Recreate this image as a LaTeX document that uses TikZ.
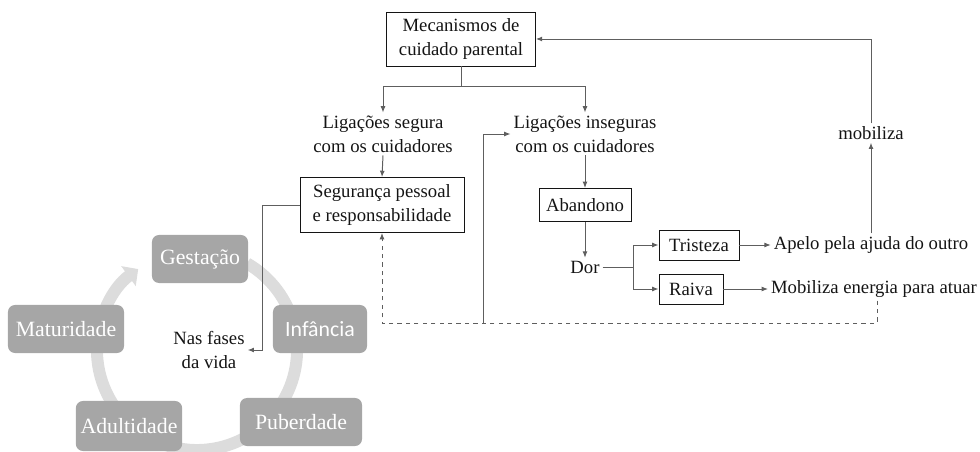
\documentclass[tikz,border=0pt]{standalone}
\usepackage{fontspec}
\setmainfont{Liberation Serif}
\newfontfamily\serfont{Liberation Serif}
\newfontfamily\calfont{Carlito}
\usetikzlibrary{arrows.meta}
\definecolor{ink}{HTML}{141414}
\definecolor{wire}{HTML}{5E5E5E}
\definecolor{stagefill}{HTML}{A6A6A6}
\definecolor{ring}{HTML}{DCDCDC}
\tikzset{
  >={Latex[length=4.5pt,width=3.5pt]},
  every node/.style={text=ink, font=\serfont\fontsize{13.3}{17}\selectfont},
  frame/.style={draw=ink, line width=0.6pt, align=center, inner sep=2pt},
  txt/.style={align=center, inner sep=2pt},
  stage/.style={fill=stagefill, rounded corners=5pt, text=white,
    minimum height=1.2cm, font=\serfont\fontsize{15.5}{18}\selectfont},
  link/.style={draw=wire, line width=0.7pt}
}
\begin{document}
\begin{tikzpicture}[x=0.025cm, y=-0.025cm]
				\useasboundingbox (0,0) rectangle (980,452);
				% ciclo das fases
				\draw[ring, line width=0.3cm, -{Triangle[length=0.3cm,width=0.6cm]}]
				(197,350) ++(60:2.5cm) arc[start angle=60, end angle=-234, radius=2.5cm];
				\node[stage, minimum width=2.4cm] (gest) at (200,259) {Gestação};
				\node[stage, minimum width=2.35cm, font=\calfont\fontsize{15.5}{18}\selectfont] (inf) at (320,329) {Infância};
				\node[stage, minimum width=3.05cm] (pub) at (301,422) {Puberdade};
				\node[stage, minimum width=2.55cm, minimum height=1.25cm] (adul) at (129,426) {Adultidade};
				\node[stage, minimum width=2.9cm] (mat) at (66,329) {Maturidade};
				\node[txt] (fases) at (209,350) {Nas fases\\da vida};
				% mecanismos
				\node[frame, minimum width=3.72cm, minimum height=1.35cm] (mec) at (461,39) {Mecanismos de\\cuidado parental};
				\node[txt] (seg) at (383,134) {Ligações segura\\com os cuidadores};
				\node[txt] (ins) at (585,134) {Ligações inseguras\\com os cuidadores};
				\node[frame, minimum width=4.1cm, minimum height=1.375cm] (pes) at (382,205) {Segurança pessoal\\e responsabilidade};
				\node[frame, minimum width=2.3cm, minimum height=0.83cm] (aban) at (585,205) {Abandono};
				\node[txt] (dor) at (585,267) {Dor};
				\node[frame, minimum width=2.0cm, minimum height=0.75cm] (tris) at (699,245) {Tristeza};
				\node[frame, minimum width=1.6cm, minimum height=0.75cm] (raiva) at (691,289) {Raiva};
				\node[txt] (apelo) at (871,245) {Apelo pela ajuda do outro};
				\node[txt] (energ) at (874,289) {Mobiliza energia para atuar};
				\node[txt] (mob) at (871,133) {mobiliza};
				\coordinate (split) at (461,86);
				\coordinate (fork) at (633,267);
				\coordinate (dcorner) at (877,323);
				\coordinate (scorner) at (483,323);
				% ligacoes
				\draw[link] (mec.south) -- (split);
				\draw[link, ->] (split) -| (seg.north);
				\draw[link, ->] (split) -| (ins.north);
				\draw[link, ->] (seg.south) -- (pes.north);
				\draw[link, ->] (ins.south) -- (aban.north);
				\draw[link, ->] (aban.south) -- (dor.north);
				\draw[link] (dor.east) -- (fork);
				\draw[link, ->] (fork) |- (tris.west);
				\draw[link, ->] (fork) |- (raiva.west);
				\draw[link, ->] (tris.east) -- (apelo.west);
				\draw[link, ->] (raiva.east) -- (energ.west);
				\draw[link, ->] (apelo.north) -- (mob.south);
				\draw[link, ->] (mob.north) |- (mec.east);
				\draw[link, ->] (pes.west) -- ++(-37,0) |- (fases.east);
				\draw[link, dashed, ->] (energ.south -| dcorner) -- (dcorner) -| (pes.south);
				\draw[link, ->] (scorner) |- (ins.west);
			\end{tikzpicture}
\end{document}
